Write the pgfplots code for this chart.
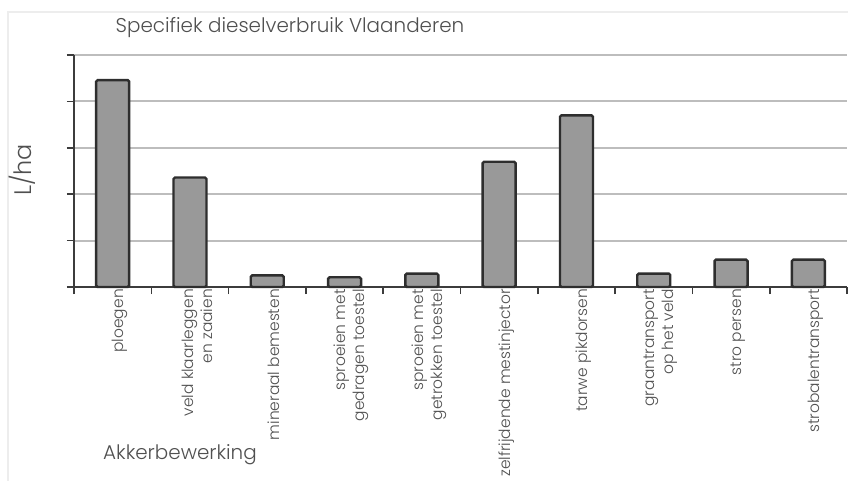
\documentclass[border=0pt]{standalone}
\usepackage{pgfplots}
\pgfplotsset{compat=1.18}
\usepackage{fontspec}
\setmainfont{Poppins}[UprightFont=* Light]
\definecolor{txt}{HTML}{505050}
\definecolor{barfill}{HTML}{999999}
\definecolor{bardraw}{HTML}{2E2E2E}
\definecolor{gridc}{HTML}{BDBDBD}
\definecolor{axc}{HTML}{3C3C3C}
\begin{document}
\begin{tikzpicture}
\useasboundingbox (0,0) rectangle (848bp,-481bp);
\fill[white] (0,0) rectangle (848bp,-481bp);
\draw[black!7, line width=2bp] (8bp,-500bp) -- (8bp,-12bp) -- (860bp,-12bp);
\begin{axis}[
  at={(74bp,-287bp)}, anchor=south west,
  scale only axis, width=773bp, height=232bp,
  xmin=-0.5, xmax=9.5, ymin=0, ymax=5,
  axis lines*=left,
  axis line style={draw=axc, line width=1.8bp},
  ymajorgrids, grid style={draw=gridc, line width=2bp},
  ytick={0,1,2,3,4,5}, yticklabels={},
  tick align=outside,
  major tick style={draw=axc, line width=1.6bp},
  major tick length=7bp,
  xtick={-0.5,0.5,...,9.5}, xticklabels={},
  extra x ticks={0,...,9},
  extra x tick labels={ploegen, {veld klaarleggen\\en zaaien}, mineraal bemesten, {sproeien met\\gedragen toestel}, {sproeien met\\getrokken toestel}, zelfrijdende mestinjector, tarwe pikdorsen, {graantransport\\op het veld}, stro persen, strobalentransport},
  extra x tick style={major tick length=0pt, grid=none},
  xticklabel style={rotate=90, anchor=east, align=right, font=\fontsize{15.5}{19}\selectfont, text=txt, inner sep=2bp, yshift=-7bp},
  clip=false,
]
\addplot[ybar, bar width=33bp, fill=barfill, draw=bardraw, line width=2.4bp, rounded corners=1.5bp] coordinates {
  (0,4.46) (1,2.36) (2,0.25) (3,0.21) (4,0.29) (5,2.70) (6,3.70) (7,0.29) (8,0.59) (9,0.59)
};
\end{axis}
\node[text=txt, font=\fontsize{20}{24}\selectfont] at (290bp,-28bp) {Specifiek dieselverbruik Vlaanderen};
\node[text=txt, font=\fontsize{24}{28}\selectfont, rotate=90] at (22bp,-170bp) {L/ha};
\node[text=txt, font=\fontsize{20}{24}\selectfont] at (180bp,-455bp) {Akkerbewerking};
\end{tikzpicture}
\end{document}
